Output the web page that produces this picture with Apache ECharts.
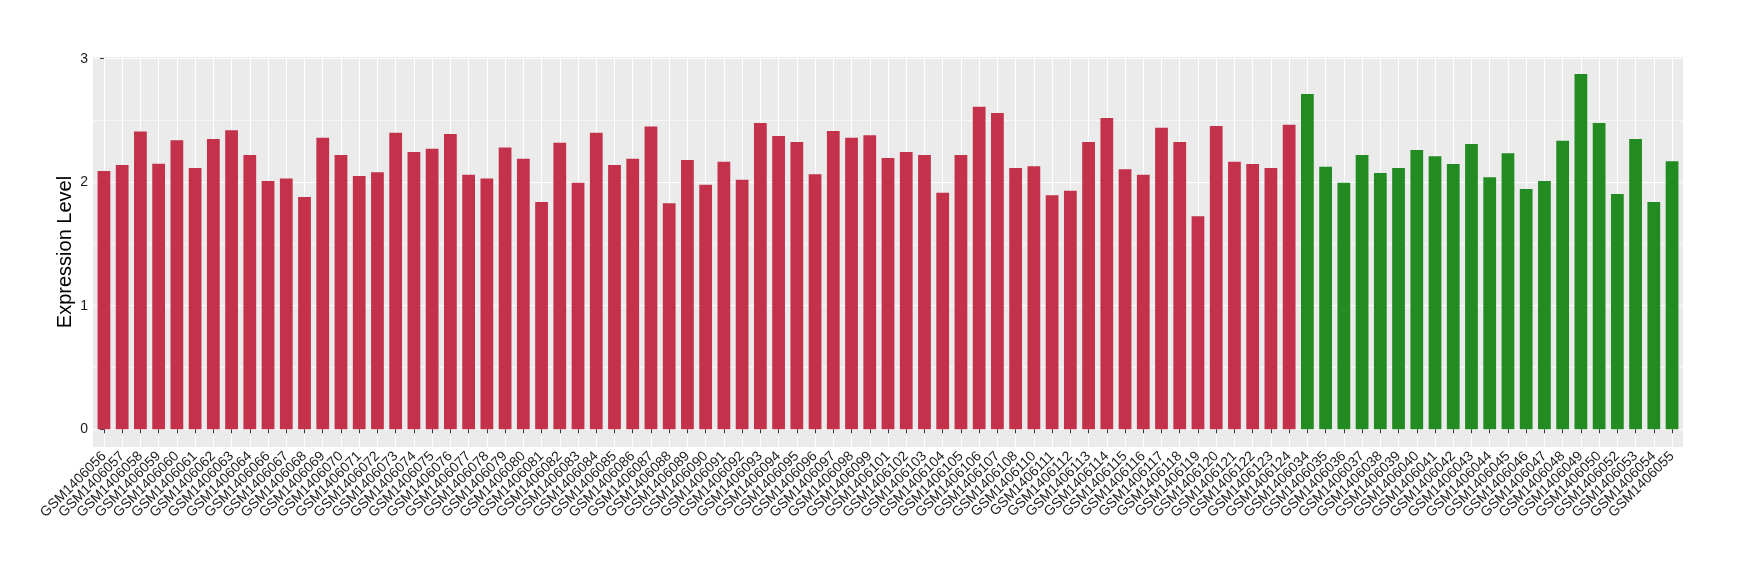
<!DOCTYPE html>
<html>
<head>
<meta charset="utf-8">
<title>Expression Level</title>
<script src="https://cdn.jsdelivr.net/npm/echarts@6/dist/echarts.min.js"></script>
<style>
  html, body { margin: 0; padding: 0; background: #fff; }
  #chart { width: 1740px; height: 580px; }
</style>
</head>
<body>
<div id="chart"></div>
<script>
// red group
var redSamples = ['GSM1406056','GSM1406057','GSM1406058','GSM1406059','GSM1406060','GSM1406061','GSM1406062','GSM1406063','GSM1406064',
  'GSM1406066','GSM1406067','GSM1406068','GSM1406069','GSM1406070','GSM1406071','GSM1406072','GSM1406073','GSM1406074','GSM1406075',
  'GSM1406076','GSM1406077','GSM1406078','GSM1406079','GSM1406080','GSM1406081','GSM1406082','GSM1406083','GSM1406084','GSM1406085',
  'GSM1406086','GSM1406087','GSM1406088','GSM1406089','GSM1406090','GSM1406091','GSM1406092','GSM1406093','GSM1406094','GSM1406095',
  'GSM1406096','GSM1406097','GSM1406098','GSM1406099','GSM1406101','GSM1406102','GSM1406103','GSM1406104','GSM1406105','GSM1406106',
  'GSM1406107','GSM1406108','GSM1406110','GSM1406111','GSM1406112','GSM1406113','GSM1406114','GSM1406115','GSM1406116','GSM1406117',
  'GSM1406118','GSM1406119','GSM1406120','GSM1406121','GSM1406122','GSM1406123','GSM1406124'];
var redValues = [2.09,2.14,2.41,2.15,2.34,2.115,2.35,2.42,2.22,
  2.01,2.03,1.88,2.36,2.22,2.05,2.08,2.40,2.245,2.27,
  2.39,2.06,2.03,2.28,2.19,1.84,2.32,1.995,2.40,2.14,
  2.19,2.45,1.83,2.18,1.98,2.165,2.02,2.48,2.375,2.325,
  2.065,2.415,2.36,2.38,2.195,2.245,2.22,1.915,2.22,2.61,
  2.56,2.115,2.13,1.895,1.93,2.325,2.52,2.105,2.06,2.44,
  2.325,1.725,2.455,2.165,2.148,2.115,2.465];

// green group
var greenSamples = ['GSM1406034','GSM1406035','GSM1406036','GSM1406037','GSM1406038','GSM1406039','GSM1406040','GSM1406041',
  'GSM1406042','GSM1406043','GSM1406044','GSM1406045','GSM1406046','GSM1406047','GSM1406048','GSM1406049','GSM1406050',
  'GSM1406052','GSM1406053','GSM1406054','GSM1406055'];
var greenValues = [2.715,2.125,1.995,2.22,2.075,2.115,2.26,2.21,
  2.148,2.31,2.04,2.235,1.945,2.01,2.335,2.875,2.48,
  1.905,2.35,1.84,2.17];

var yTicks = [0, 1, 2, 3];
var yMinorTicks = [0.5, 1.5, 2.5];

var samples = redSamples.concat(greenSamples);
var xTicks = samples.map(function (s, i) { return i; });

var redData = redValues.map(function (v, i) { return [i, v]; });
var greenData = greenValues.map(function (v, i) { return [redSamples.length + i, v]; });

var gridLeft = 93, gridRight = 57, gridTop = 57, gridBottom = 133;
// ggplot pads a discrete axis by 0.6 of a step on each side
var step = (1740 - gridLeft - gridRight) / (samples.length - 1 + 1.2);

var myChart = echarts.init(document.getElementById('chart'));
var font = '"Liberation Sans", Arial, sans-serif';

var option = {
  animation: false,
  backgroundColor: '#ffffff',
  grid: [
    {
      left: gridLeft, right: gridRight, top: gridTop, bottom: gridBottom,
      containLabel: false,
      show: true,
      backgroundColor: '#EBEBEB',
      borderWidth: 0
    },
    {
      // labels only, inset so category centres line up with the bars
      left: gridLeft + 0.1 * step, right: gridRight + 0.1 * step, top: gridTop, bottom: gridBottom,
      containLabel: false,
      show: false
    }
  ],
  xAxis: [
    {
      type: 'value',
      gridIndex: 0,
      min: -0.6,
      max: samples.length - 1 + 0.6,
      axisLine: { show: false },
      axisTick: {
        show: true,
        customValues: xTicks,
        length: 4,
        lineStyle: { color: '#333333', width: 1 }
      },
      axisLabel: { show: false, customValues: xTicks },
      splitLine: { show: true, lineStyle: { color: '#ffffff', width: 1.1 } }
    },
    {
      type: 'category',
      gridIndex: 1,
      data: samples,
      boundaryGap: true,
      axisLine: { show: false },
      axisTick: { show: false },
      splitLine: { show: false },
      axisLabel: {
        interval: 0,
        rotate: 45,
        margin: 7,
        fontSize: 14,
        fontFamily: font,
        color: '#1a1a1a'
      }
    }
  ],
  yAxis: [
    {
      type: 'value',
      gridIndex: 0,
      min: -0.1435,
      max: 3.0135,
      name: 'Expression Level',
      nameLocation: 'middle',
      nameGap: 18,
      nameMoveOverlap: false,
      nameTextStyle: { fontSize: 20, fontFamily: font, color: '#000000' },
      axisLine: { show: false },
      axisTick: {
        show: true,
        customValues: yTicks,
        length: 4,
        lineStyle: { color: '#333333', width: 1 }
      },
      axisLabel: {
        customValues: yTicks,
        margin: 5,
        fontSize: 14,
        fontFamily: font,
        color: '#1a1a1a'
      },
      splitLine: { show: true, lineStyle: { color: '#ffffff', width: 1.1 } }
    },
    {
      type: 'value',
      gridIndex: 0,
      min: -0.1435,
      max: 3.0135,
      position: 'left',
      axisLine: { show: false },
      axisTick: { show: false, customValues: yMinorTicks },
      axisLabel: { show: false, customValues: yMinorTicks },
      splitLine: { show: true, lineStyle: { color: '#ffffff', width: 0.55 } }
    },
    {
      type: 'value',
      gridIndex: 1,
      min: 0,
      max: 3,
      show: false
    }
  ],
  series: [
    {
      name: 'red',
      type: 'bar',
      xAxisIndex: 0,
      yAxisIndex: 0,
      data: redData,
      barWidth: step * 0.7,
      barGap: '-100%',
      itemStyle: { color: '#C3314A' }
    },
    {
      name: 'green',
      type: 'bar',
      xAxisIndex: 0,
      yAxisIndex: 0,
      data: greenData,
      barWidth: step * 0.7,
      barGap: '-100%',
      itemStyle: { color: '#228B22' }
    }
  ]
};
myChart.setOption(option);
</script>
</body>
</html>
